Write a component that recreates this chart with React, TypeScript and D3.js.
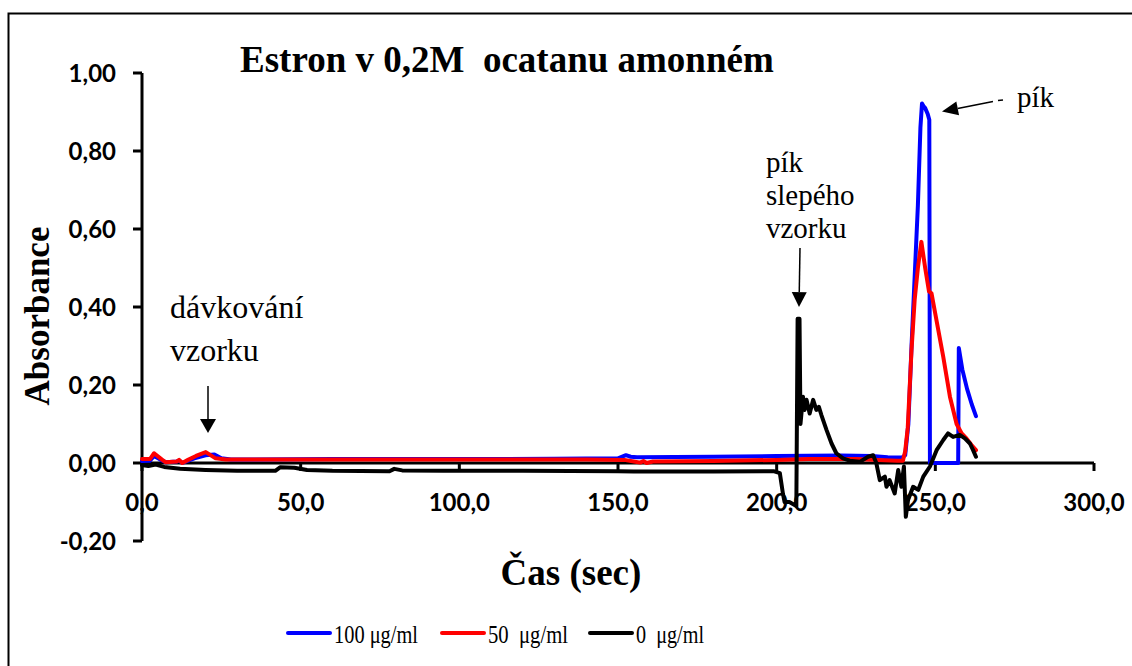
import React from 'react';
import * as d3 from 'd3';

const WIDTH = 1132;
const HEIGHT = 666;

const X_TICKS = [0, 50, 100, 150, 200, 250, 300];
const Y_TICKS = [-0.2, 0, 0.2, 0.4, 0.6, 0.8, 1.0];
const SERIES_NAMES = ['100 μg/ml', '50  μg/ml', '0  μg/ml'];
const SERIES_COLORS = ['#0000ff', '#ff0000', '#000000'];

// [time (s), absorbance]
const SERIES_100: [number, number][] = [
  [0, 0.005], [2.5, 0.006], [3.8, 0.018], [5.5, 0.01], [7.5, 0.002], [11, 0.004], [11.7, 0.006],
  [12.7, 0.0], [16.5, 0.012], [20, 0.02], [22.8, 0.022], [25, 0.012], [28, 0.009], [60, 0.01],
  [100, 0.01], [130, 0.011], [150, 0.012], [152.5, 0.02], [154, 0.016], [156, 0.015], [180, 0.016],
  [200, 0.018], [220, 0.019], [230, 0.018], [235, 0.015], [239.5, 0.014], [240.5, 0.02],
  [241.5, 0.1], [242.5, 0.3], [243.5, 0.48], [244.5, 0.66], [245.3, 0.86], [245.8, 0.922],
  [246.3, 0.915], [246.8, 0.91], [247.6, 0.895], [248.1, 0.88], [248.3, 0.0], [257.2, 0.0],
  [257.4, 0.295], [258.5, 0.24], [260, 0.19], [261.5, 0.15], [262.8, 0.12],
];

const SERIES_50: [number, number][] = [
  [0, 0.01], [2.5, 0.01], [3.8, 0.025], [6.4, 0.008], [7.4, 0.002], [11, 0.004], [11.7, 0.008],
  [12.7, 0.0], [14.5, 0.008], [17, 0.018], [20.1, 0.028], [23.2, 0.012], [26.4, 0.009],
  [60, 0.009], [100, 0.009], [140, 0.009], [152, 0.008], [155, 0.004], [157, 0.001], [158, 0.005],
  [159, 0.0], [161, 0.004], [180, 0.005], [200, 0.008], [210, 0.01], [225, 0.01], [232, 0.008],
  [238, 0.006], [239.8, 0.006], [240.5, 0.03], [241.3, 0.09], [242.5, 0.29], [243.5, 0.42],
  [244.5, 0.5], [245.6, 0.567], [246.8, 0.5], [248.0, 0.44], [248.8, 0.435], [250.5, 0.36],
  [252.5, 0.272], [254.6, 0.17], [256.7, 0.1], [258.3, 0.076], [259.8, 0.063], [261.4, 0.046],
  [262.8, 0.033],
];

const SERIES_0: [number, number][] = [
  [0, -0.005], [2, -0.008], [4.3, -0.004], [7, -0.01], [12, -0.015], [20, -0.018], [30, -0.02],
  [42, -0.02], [43.5, -0.011], [48, -0.012], [52, -0.018], [60, -0.02], [78, -0.021],
  [79.5, -0.015], [82, -0.019], [95, -0.02], [120, -0.02], [150, -0.021], [155, -0.022],
  [180, -0.022], [199, -0.021], [201, -0.026], [202, -0.08], [202.5, -0.1], [204, -0.1],
  [206.2, -0.11], [206.6, 0.37], [207.2, 0.37], [207.5, 0.1], [208.3, 0.17], [208.8, 0.136],
  [209.4, 0.162], [210.4, 0.127], [211.5, 0.162], [212.5, 0.136], [213.3, 0.144], [214.1, 0.123],
  [215.7, 0.085], [217.3, 0.05], [218.8, 0.025], [220.9, 0.012], [223, 0.006], [226.2, 0.003],
  [228.8, 0.016], [230.4, 0.02], [231.4, 0.0], [232.5, -0.044], [234.1, -0.035], [234.6, -0.061],
  [235.6, -0.044], [237.2, -0.078], [238.3, -0.018], [239.3, -0.061], [240.1, -0.009],
  [240.7, -0.138], [241.4, -0.095], [243, -0.061], [244.6, -0.069], [246.2, -0.035],
  [248.3, -0.009], [250.4, 0.033], [252.5, 0.059], [254, 0.076], [255.6, 0.067], [257.7, 0.072],
  [259.3, 0.063], [260.9, 0.05], [261.9, 0.033], [262.8, 0.016],
];

const ALL_SERIES = [SERIES_100, SERIES_50, SERIES_0];

const SANS = 'Lato, "Open Sans", sans-serif';
const SERIF = '"Liberation Serif", "Times New Roman", serif';

function Arrow({ x1, y1, x2, y2, len = 15, half = 7 }: { x1: number; y1: number; x2: number; y2: number; len?: number; half?: number }) {
  const dx = x2 - x1;
  const dy = y2 - y1;
  const d = Math.sqrt(dx * dx + dy * dy);
  const ux = dx / d;
  const uy = dy / d;
  const bx = x2 - ux * len;
  const by = y2 - uy * len;
  const px = -uy * half;
  const py = ux * half;
  return (
    <g>
      <line x1={x1} y1={y1} x2={bx} y2={by} stroke="#000" strokeWidth={1.5} />
      <polygon points={`${x2},${y2} ${bx + px},${by + py} ${bx - px},${by - py}`} fill="#000" />
    </g>
  );
}

export default function App() {
  const x = d3.scaleLinear().domain([0, 300]).range([142, 1094]);
  const y = d3.scaleLinear().domain([-0.2, 1]).range([541, 73]);
  const line = d3
    .line<[number, number]>()
    .x((d) => x(d[0]))
    .y((d) => y(d[1]));
  const fmtY = (v: number) => d3.format('.2f')(v).replace('.', ',').replace('−', '-');
  const fmtX = (v: number) => d3.format('.1f')(v).replace('.', ',');

  const legendX = [288, 442, 590];
  const legendTextW = [84, 80, 68];

  return (
    <svg
      width={WIDTH}
      height={HEIGHT}
      style={{ position: 'absolute', left: 0, top: 0, background: '#fff' }}
    >
      <rect x={0} y={0} width={WIDTH} height={HEIGHT} fill="#fff" />
      <rect x={8.5} y={13.5} width={WIDTH + 20} height={HEIGHT + 20} fill="none" stroke="#000" strokeWidth={2} />

      {/* title */}
      <text x={240} y={72} fontFamily={SERIF} fontWeight="bold" fontSize={37} style={{ whiteSpace: 'pre' }}>
        {'Estron v 0,2M  ocatanu amonném'}
      </text>

      {/* y axis */}
      <line x1={142} y1={y(1)} x2={142} y2={y(-0.2)} stroke="#000" strokeWidth={3} />
      {Y_TICKS.map((t) => (
        <g key={'y' + t}>
          <line x1={133} y1={y(t)} x2={142} y2={y(t)} stroke="#000" strokeWidth={3} />
          <text x={116} y={y(t)} dy="0.36em" textAnchor="end" fontFamily={SANS} fontWeight="bold" fontSize={24}>
            {fmtY(t)}
          </text>
        </g>
      ))}

      {/* x axis */}
      <line x1={x(0)} y1={y(0)} x2={x(300)} y2={y(0)} stroke="#000" strokeWidth={3} />
      {X_TICKS.map((t) => (
        <g key={'x' + t}>
          <line x1={x(t)} y1={y(0)} x2={x(t)} y2={y(0) + 8} stroke="#000" strokeWidth={3} />
          <text x={x(t)} y={511} textAnchor="middle" fontFamily={SANS} fontWeight="bold" fontSize={24}>
            {fmtX(t)}
          </text>
        </g>
      ))}

      {/* axis titles */}
      <text
        transform="translate(49,316) rotate(-90)"
        textAnchor="middle"
        fontFamily={SERIF}
        fontWeight="bold"
        fontSize={35}
      >
        Absorbance
      </text>
      <text x={571} y={585} textAnchor="middle" fontFamily={SERIF} fontWeight="bold" fontSize={37}>
        Čas (sec)
      </text>

      {/* series */}
      {ALL_SERIES.map((s, i) => (
        <path
          key={'s' + i}
          d={line(s) || ''}
          fill="none"
          stroke={SERIES_COLORS[i]}
          strokeWidth={4}
          strokeLinejoin="round"
          strokeLinecap="round"
        />
      ))}

      {/* annotations */}
      <text fontFamily={SERIF} fontSize={32}>
        <tspan x={170} y={318}>dávkování</tspan>
        <tspan x={170} y={361}>vzorku</tspan>
      </text>
      <Arrow x1={208} y1={386} x2={208} y2={433} len={14} half={8} />

      <text fontFamily={SERIF} fontSize={29}>
        <tspan x={766} y={172}>pík</tspan>
        <tspan x={766} y={205}>slepého</tspan>
        <tspan x={766} y={238}>vzorku</tspan>
      </text>
      <Arrow x1={800} y1={248} x2={799} y2={307} len={15} half={7.5} />

      <text x={1017} y={107} fontFamily={SERIF} fontSize={29}>
        pík
      </text>
      <line x1={998} y1={100.5} x2={1003} y2={100} stroke="#000" strokeWidth={1.5} />
      <Arrow x1={993} y1={101.5} x2={942} y2={111.5} len={16} half={7} />

      {/* legend */}
      {SERIES_NAMES.map((name, i) => {
        const lx = legendX[i];
        return (
          <g key={'l' + i}>
            <line x1={lx} y1={633} x2={lx + 42} y2={633} stroke={SERIES_COLORS[i]} strokeWidth={4} strokeLinecap="round" />
            <text
              x={lx + 46}
              y={643}
              fontFamily={SERIF}
              fontSize={26}
              textLength={legendTextW[i]}
              lengthAdjust="spacingAndGlyphs"
              style={{ whiteSpace: 'pre' }}
            >
              {name}
            </text>
          </g>
        );
      })}
    </svg>
  );
}
